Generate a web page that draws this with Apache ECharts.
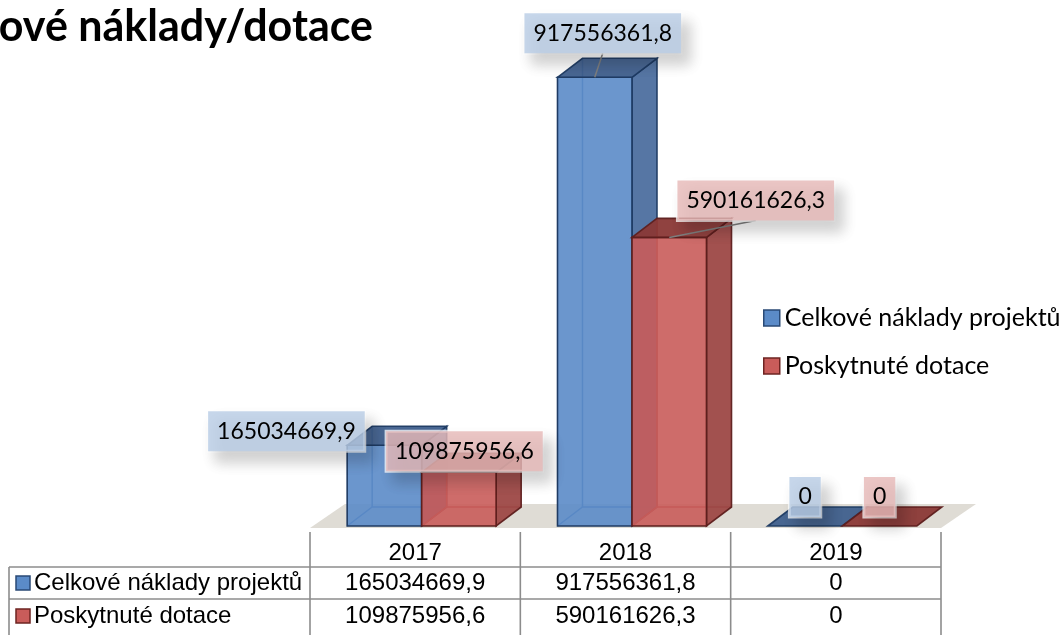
<!DOCTYPE html>
<html>
<head>
<meta charset="utf-8">
<script src="https://cdn.jsdelivr.net/npm/echarts@6/dist/echarts.min.js"></script>
<style>html,body{margin:0;padding:0;background:#fff}#c{width:1059px;height:635px}</style>
</head>
<body>
<div id="c"></div>
<script>
// ---- data ----
const titleText = 'ové náklady/dotace';
const categories = ['2017', '2018', '2019'];
const seriesNames = ['Celkové náklady projektů', 'Poskytnuté dotace'];
const costs = [165034669.9, 917556361.8, 0];
const grants = [109875956.6, 590161626.3, 0];

// ---- layout / style (not data) ----
const GRID = { left: 310, width: 631, top: 37, height: 489 };
const DEPTH = { dx: 25, dy: -19 };
const BAR_W = 0.3542, BAR_OFF = 0.0309;
// label offsets relative to bar front-top centre, plus leader flag
const labelLayout = [
  [[-98, -14, false], [8, -44, true], [0, -29, false]],
  [[5.5, -21, false], [86.5, -37, true], [0, -29, false]]
];
const palette = [
  { front: '#5b8bc8', side: '#4d6f9f', top: '#3f5f8d', edge: '#1f3b63', inner: '#3f6ea9',
    box: 'rgba(185,205,229,0.82)', key: '#5b8bc8', keyBorder: '#2a4a76' },
  { front: '#c95c5a', side: '#9d4846', top: '#8a3836', edge: '#5e1f1d', inner: '#a84745',
    box: 'rgba(230,185,184,0.82)', key: '#c95c5a', keyBorder: '#6e2422' }
];
const values = [costs, grants];

function fmt(v) { return v === 0 ? '0' : v.toFixed(1).replace('.', ','); }

function barGeom(api, s) {
  const cat = api.value(0), val = api.value(1);
  const base = api.coord([cat, 0]);
  const top = api.coord([cat, val]);
  const band = api.size([1, 0])[0];
  const w = band * BAR_W;
  const x0 = base[0] + band * BAR_OFF - w + s * w;
  return { x0, x1: x0 + w, yb: base[1], yt: top[1], cat, val };
}

function makeBarSeries(s) {
  const p = palette[s];
  return {
    type: 'custom', name: seriesNames[s], z: 3,
    itemStyle: { color: p.key, borderColor: p.keyBorder },
    data: values[s].map((v, i) => [i, v]),
    renderItem: function (params, api) {
      const g = barGeom(api, s);
      const { x0, x1, yb, yt } = g;
      const dx = DEPTH.dx, dy = DEPTH.dy;
      const children = [];
      const edge = { stroke: p.edge, lineWidth: 1.6, fill: null };
      if (yb - yt > 0.5) {
        children.push({ type: 'polyline', shape: { points: [[x0, yb], [x0 + dx, yb + dy], [x1 + dx, yb + dy]] }, style: { stroke: p.inner, lineWidth: 1.5, fill: null } });
        children.push({ type: 'line', shape: { x1: x0 + dx, y1: yt + dy, x2: x0 + dx, y2: yb + dy }, style: { stroke: p.inner, lineWidth: 1.5 } });
        children.push({ type: 'polygon', shape: { points: [[x1, yt], [x1 + dx, yt + dy], [x1 + dx, yb + dy], [x1, yb]] }, style: Object.assign({}, edge, { fill: p.side, opacity: 0.95 }) });
        children.push({ type: 'rect', shape: { x: x0, y: yt, width: x1 - x0, height: yb - yt }, style: { fill: p.front, opacity: 0.9 } });
        children.push({ type: 'rect', shape: { x: x0, y: yt, width: x1 - x0, height: yb - yt }, style: edge });
      }
      children.push({ type: 'polygon', shape: { points: [[x0, yt], [x0 + dx, yt + dy], [x1 + dx, yt + dy], [x1, yt]] }, style: Object.assign({}, edge, { fill: p.top, opacity: 0.95 }) });
      return { type: 'group', children };
    }
  };
}

function makeLabelSeries(s) {
  const p = palette[s];
  return {
    type: 'custom', name: 'lbl' + s, z: 10,
    data: values[s].map((v, i) => [i, v]),
    renderItem: function (params, api) {
      const g = barGeom(api, s);
      const cx = (g.x0 + g.x1) / 2;
      const L = labelLayout[s][g.cat];
      const lx = cx + L[0], ly = g.yt + L[1];
      const children = [];
      if (L[2]) {
        children.push({ type: 'line', shape: { x1: lx, y1: ly + 20, x2: cx, y2: g.yt }, style: { stroke: '#7f7f7f', lineWidth: 1.5 } });
      }
      children.push({
        type: 'text', x: lx, y: ly,
        style: {
          text: fmt(g.val), fontFamily: 'Lato', fontSize: 23, fill: '#000',
          align: 'center', verticalAlign: 'middle',
          backgroundColor: p.box, borderColor: 'rgba(255,255,255,0.75)', borderWidth: 1.5,
          padding: [8, 9, 8, 9], lineHeight: 24,
          shadowBlur: 14, shadowColor: 'rgba(0,0,0,0.22)', shadowOffsetX: 8, shadowOffsetY: 10
        }
      });
      return { type: 'group', children };
    }
  };
}

// ---- static graphics: title, floor, data table ----
const band = GRID.width / categories.length;
const colX = categories.map((c, i) => GRID.left + band * i);
const gridRight = GRID.left + GRID.width;
const zeroY = GRID.top + GRID.height;
const graphics = [];
graphics.push({ type: 'text', x: 373, y: 27, z: 20,
  style: { text: titleText, fontFamily: 'Lato', fontWeight: 'bold', fontSize: 43, fill: '#000', align: 'right', verticalAlign: 'middle' } });
graphics.push({ type: 'polygon', z: 1,
  shape: { points: [[GRID.left, zeroY + 2], [GRID.left + 35, zeroY - 22], [gridRight + 35, zeroY - 22], [gridRight, zeroY + 2]] },
  style: { fill: '#dfdcd5' } });
const lineStyle = { stroke: '#8c8c8c', lineWidth: 1.6 };
const rowY = [567, 599, 640];
const tableLeft = 9;
colX.concat([gridRight]).forEach(x => graphics.push({ type: 'line', z: 5, shape: { x1: x, y1: zeroY + 6, x2: x, y2: 640 }, style: lineStyle }));
graphics.push({ type: 'line', z: 5, shape: { x1: tableLeft, y1: rowY[0], x2: tableLeft, y2: 640 }, style: lineStyle });
rowY.forEach(y => graphics.push({ type: 'line', z: 5, shape: { x1: tableLeft, y1: y, x2: gridRight, y2: y }, style: lineStyle }));
categories.forEach((c, i) => graphics.push({ type: 'text', z: 6, x: colX[i] + band / 2, y: 553,
  style: { text: c, fontFamily: 'Liberation Sans', fontSize: 24, fill: '#000', align: 'center', verticalAlign: 'middle' } }));
const rowCenter = [583, 616];
values.forEach((arr, s) => {
  graphics.push({ type: 'rect', z: 6, shape: { x: 16, y: rowCenter[s] - 7, width: 14, height: 14 },
    style: { fill: palette[s].key, stroke: palette[s].keyBorder, lineWidth: 1.5 } });
  graphics.push({ type: 'text', z: 6, x: 34, y: rowCenter[s],
    style: { text: seriesNames[s], fontFamily: 'Liberation Sans', fontSize: 24, fill: '#000', align: 'left', verticalAlign: 'middle' } });
  arr.forEach((v, i) => graphics.push({ type: 'text', z: 6, x: colX[i] + band / 2, y: rowCenter[s],
    style: { text: fmt(v), fontFamily: 'Liberation Sans', fontSize: 24, fill: '#000', align: 'center', verticalAlign: 'middle' } }));
});

const chart = echarts.init(document.getElementById('c'), null, { renderer: 'canvas' });
chart.setOption({
  animation: false,
  backgroundColor: '#fff',
  grid: { left: GRID.left, top: GRID.top, width: GRID.width, height: GRID.height },
  xAxis: { type: 'category', data: categories, show: false },
  yAxis: { type: 'value', min: 0, max: 1000000000, show: false },
  legend: {
    data: seriesNames.map((n, s) => ({ name: n, icon: 'rect', itemStyle: { color: palette[s].key, borderColor: palette[s].keyBorder, borderWidth: 1.5 } })),
    orient: 'vertical', left: 763, top: 304, padding: 0, itemWidth: 16, itemHeight: 16, itemGap: 20, itemTextGap: 6,
    textStyle: { fontFamily: 'Lato', fontSize: 25, color: '#000', lineHeight: 28 }
  },
  graphic: graphics,
  series: [makeBarSeries(0), makeBarSeries(1), makeLabelSeries(0), makeLabelSeries(1)]
});
</script>
</body>
</html>
